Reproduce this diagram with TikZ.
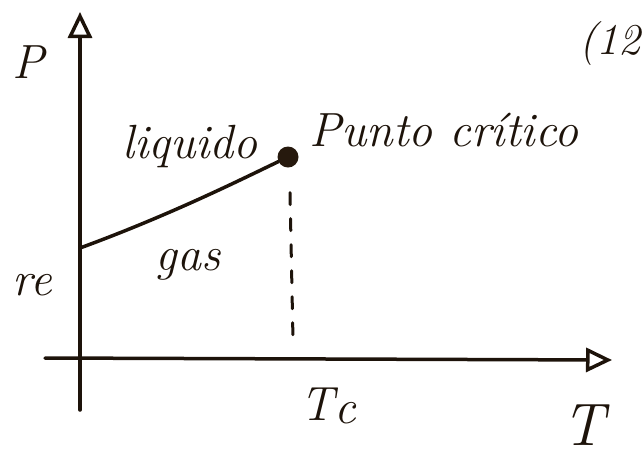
\documentclass[tikz,border=0pt]{standalone}
\usetikzlibrary{arrows.meta}
\begin{document}
\begin{tikzpicture}[x=1pt,y=-1pt,
  ink/.style={draw=black!85!brown, line width=3.5pt, line cap=round},
  lbl/.style={text=black!85!brown, font=\fontsize{48}{50}\selectfont\itshape, inner sep=0pt},
  axarrow/.style={-{Triangle[open,length=26pt,width=24pt,line width=3.5pt]}}]
\useasboundingbox (0,0) rectangle (644,472);
% axes
\coordinate (ybot) at (80,410);
\coordinate (ytop) at (80,12);
\coordinate (xleft) at (45,358);
\coordinate (xright) at (612,360);
\draw[ink,axarrow] (ybot) -- (ytop);
\draw[ink,axarrow] (xleft) -- (xright);
% critical point
\node[circle, fill=black!80!brown, minimum size=21pt, inner sep=0pt] (cp) at (288,157) {};
\coordinate (y0) at (80,248);
\draw[ink] (y0) .. controls (170,215) and (240,180) .. (cp);
\coordinate (tcbot) at (293,340);
\draw[ink, line width=3pt, dash pattern=on 12pt off 14pt] (cp.south) ++(2,25) coordinate (dstart) -- (tcbot);
% labels
\node[lbl] (P) at (28,62) {P};
\node[lbl, anchor=east, font=\fontsize{44}{46}\selectfont\itshape] (twelve) at (641,44) {(12};
\node[lbl, anchor=east] (re) at (52,285) {re};
\node[lbl] (liq) at (190,146) {liquido};
\node[lbl] (pc) at (444,130) {Punto crítico};
\node[lbl] (gas) at (188,265) {gas};
\node[lbl] (tc) at (328,406) {T\raisebox{-3pt}{c}};
\node[lbl, font=\fontsize{60}{62}\selectfont\itshape] (T) at (583,425) {T};
\end{tikzpicture}
\end{document}
